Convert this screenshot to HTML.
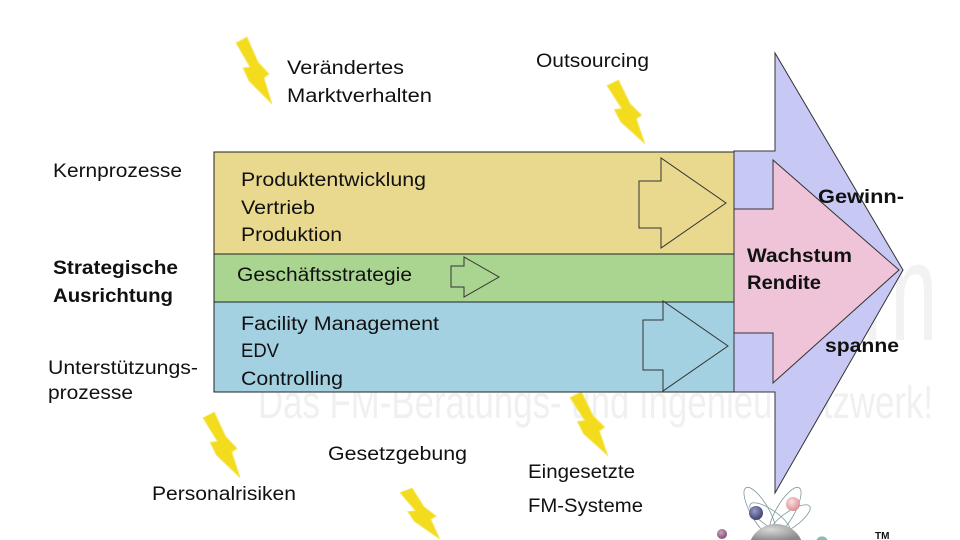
<!DOCTYPE html>
<html><head><meta charset="utf-8"><style>
html,body{margin:0;padding:0;background:#fff;width:960px;height:540px;overflow:hidden;}
svg{display:block;overflow:hidden;}
text{font-family:"Liberation Sans",sans-serif;fill:#111;}
.b{font-weight:bold;}
</style></head><body>
<svg width="960" height="540" viewBox="0 0 960 540" xmlns="http://www.w3.org/2000/svg">
<defs>
<polygon id="bolt" points="0,6 11,0 22,25 33,37 28,41 36,67 13,44 7,31 14,30"/>
<radialGradient id="gs" cx="0.4" cy="0.35" r="0.7"><stop offset="0" stop-color="#d8d8d8"/><stop offset="1" stop-color="#8a8a8a"/></radialGradient>
<radialGradient id="gn" cx="0.4" cy="0.35" r="0.7"><stop offset="0" stop-color="#9a9ac8"/><stop offset="1" stop-color="#3a3a6a"/></radialGradient>
<radialGradient id="gp" cx="0.4" cy="0.35" r="0.7"><stop offset="0" stop-color="#fbe0e0"/><stop offset="1" stop-color="#d88a90"/></radialGradient>
<radialGradient id="gv" cx="0.4" cy="0.35" r="0.7"><stop offset="0" stop-color="#d0a0c0"/><stop offset="1" stop-color="#7a4a70"/></radialGradient>
</defs>
<rect width="960" height="540" fill="#fff"/>

<!-- watermark -->
<text x="258" y="418" font-size="46" style="fill:#f0f0f0" textLength="675" lengthAdjust="spacingAndGlyphs">Das FM-Beratungs- und Ingenieurnetzwerk!</text>
<text x="862" y="340" font-size="140" style="fill:#f2f2f2" textLength="76" lengthAdjust="spacingAndGlyphs">m</text>

<!-- bolts -->
<g fill="#f3dc1e" stroke="#f7e870" stroke-width="1">
<use href="#bolt" transform="translate(236,37)"/>
<use href="#bolt" transform="translate(607,80) scale(1.05,0.95)"/>
<use href="#bolt" transform="translate(203,412) scale(1.03,0.98)"/>
<use href="#bolt" transform="translate(400,488) scale(1.1,0.76)"/>
<use href="#bolt" transform="translate(570,392) scale(1.05,0.95)"/>
</g>

<!-- boxes -->
<rect x="214" y="152" width="520" height="102" fill="#e9d98e" stroke="#222" stroke-width="1"/>
<rect x="214" y="254" width="520" height="48" fill="#a9d591" stroke="#222" stroke-width="1"/>
<rect x="214" y="302" width="520" height="90" fill="#a3d1e1" stroke="#222" stroke-width="1"/>

<!-- small arrows -->
<polygon points="639,181 661,181 661,158 726,203 661,248 661,228 639,228" fill="none" stroke="#333" stroke-width="1"/>
<polygon points="451,266 464,266 464,257 499,277 464,297 464,287 451,287" fill="none" stroke="#333" stroke-width="1"/>
<polygon points="643,320 663,320 663,301 728,346 663,391 663,370 643,370" fill="none" stroke="#333" stroke-width="1"/>

<!-- big arrows -->
<polygon points="734,151 775,151 775,53 903,270 775,493 775,392 734,392" fill="#c8c8f5" stroke="#333" stroke-width="1"/>
<polygon points="734,209 773,209 773,160 899,270 773,383 773,333 734,333" fill="#efc4d8" stroke="#333" stroke-width="1"/>

<!-- box texts -->
<text x="241" y="186" font-size="19" textLength="185" lengthAdjust="spacingAndGlyphs">Produktentwicklung</text>
<text x="241" y="214" font-size="19" textLength="74" lengthAdjust="spacingAndGlyphs">Vertrieb</text>
<text x="241" y="241" font-size="19" textLength="101" lengthAdjust="spacingAndGlyphs">Produktion</text>
<text x="237" y="281" font-size="19" textLength="175" lengthAdjust="spacingAndGlyphs">Geschäftsstrategie</text>
<text x="241" y="330" font-size="19" textLength="198" lengthAdjust="spacingAndGlyphs">Facility Management</text>
<text x="241" y="357" font-size="19" textLength="38" lengthAdjust="spacingAndGlyphs">EDV</text>
<text x="241" y="385" font-size="19" textLength="102" lengthAdjust="spacingAndGlyphs">Controlling</text>

<!-- arrow texts -->
<text class="b" x="818" y="203" font-size="19" textLength="86" lengthAdjust="spacingAndGlyphs">Gewinn-</text>
<text class="b" x="747" y="262" font-size="19" textLength="105" lengthAdjust="spacingAndGlyphs">Wachstum</text>
<text class="b" x="747" y="289" font-size="19" textLength="74" lengthAdjust="spacingAndGlyphs">Rendite</text>
<text class="b" x="825" y="352" font-size="19" textLength="74" lengthAdjust="spacingAndGlyphs">spanne</text>

<!-- left labels -->
<text x="53" y="177" font-size="19" textLength="129" lengthAdjust="spacingAndGlyphs">Kernprozesse</text>
<text class="b" x="53" y="274" font-size="19" textLength="125" lengthAdjust="spacingAndGlyphs">Strategische</text>
<text class="b" x="53" y="302" font-size="19" textLength="120" lengthAdjust="spacingAndGlyphs">Ausrichtung</text>
<text x="48" y="374" font-size="19" textLength="150" lengthAdjust="spacingAndGlyphs">Unterstützungs-</text>
<text x="48" y="399" font-size="19" textLength="85" lengthAdjust="spacingAndGlyphs">prozesse</text>

<!-- outer labels -->
<text x="287" y="74" font-size="19" textLength="117" lengthAdjust="spacingAndGlyphs">Verändertes</text>
<text x="287" y="102" font-size="19" textLength="145" lengthAdjust="spacingAndGlyphs">Marktverhalten</text>
<text x="536" y="67" font-size="19" textLength="113" lengthAdjust="spacingAndGlyphs">Outsourcing</text>
<text x="328" y="460" font-size="19" textLength="139" lengthAdjust="spacingAndGlyphs">Gesetzgebung</text>
<text x="152" y="500" font-size="19" textLength="144" lengthAdjust="spacingAndGlyphs">Personalrisiken</text>
<text x="528" y="478" font-size="19" textLength="107" lengthAdjust="spacingAndGlyphs">Eingesetzte</text>
<text x="528" y="512" font-size="19" textLength="115" lengthAdjust="spacingAndGlyphs">FM-Systeme</text>

<!-- logo -->
<g fill="none" stroke="#7f9a9a" stroke-width="0.8">
<ellipse cx="760" cy="512" rx="9" ry="28" transform="rotate(-30 760 512)"/>
<ellipse cx="785" cy="512" rx="9" ry="28" transform="rotate(30 785 512)"/>
<ellipse cx="770" cy="518" rx="8" ry="24" transform="rotate(-55 770 518)"/>
<ellipse cx="790" cy="520" rx="8" ry="24" transform="rotate(55 790 520)"/>
</g>
<path d="M750.7,540 A28,28 0 0 1 801.3,540 Z" fill="url(#gs)"/>
<circle cx="756" cy="513" r="7" fill="url(#gn)"/>
<circle cx="793" cy="504" r="7" fill="url(#gp)"/>
<circle cx="722" cy="534" r="5" fill="url(#gv)"/>
<path d="M816.5,540 A6,6 0 0 1 827.5,540 Z" fill="#8fb8b8"/>
<text class="b" x="875" y="539" font-size="10">TM</text>
</svg>
</body></html>
